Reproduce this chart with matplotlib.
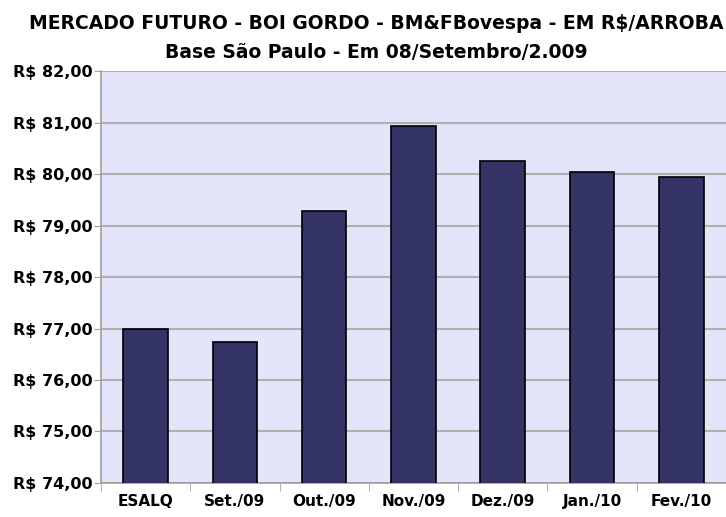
import matplotlib
matplotlib.use('Agg')
import matplotlib.pyplot as plt
import numpy as np

# dados
categorias = ['ESALQ', 'Set./09', 'Out./09', 'Nov./09', 'Dez./09', 'Jan./10', 'Fev./10']
precos = [77.00, 76.73, 79.28, 80.94, 80.25, 80.05, 79.94]
yticks = [74, 75, 76, 77, 78, 79, 80, 81, 82]
titulo1 = 'MERCADO FUTURO - BOI GORDO - BM&FBovespa - EM R$/ARROBA'
titulo2 = 'Base São Paulo - Em 08/Setembro/2.009'

plt.rcParams['font.family'] = ['DejaVu Sans']

fig = plt.figure(figsize=(7.26, 5.17), dpi=100)
ax = fig.add_axes([0.139, 0.066, 0.861, 0.796])
ax.set_facecolor('#E4E4FA')

x = np.arange(len(categorias))
ax.bar(x, precos, width=0.5, color='#333366', edgecolor='black', linewidth=1.2, zorder=3)

ax.set_ylim(74, 82)
ax.set_xlim(-0.5, len(categorias) - 0.5)
ax.set_yticks(yticks)
ax.set_yticklabels(['R$ %d,00' % v for v in yticks], fontsize=11.5, fontweight='bold')
ax.set_xticks(x)
ax.set_xticklabels(categorias, fontsize=11, fontweight='bold')
ax.set_xticks(np.arange(-0.5, len(categorias)), minor=True)
ax.tick_params(axis='x', which='major', length=0, pad=8)
ax.tick_params(axis='x', which='minor', length=6, color='#A0A0A0', direction='out')
ax.tick_params(axis='y', length=5, color='#A0A0A0', direction='out', pad=1)

ax.yaxis.grid(True, color='#B0B0B0', linewidth=1.5, zorder=0)
ax.set_axisbelow(True)
for s in ['top', 'right']:
    ax.spines[s].set_visible(False)
for s in ['left', 'bottom']:
    ax.spines[s].set_color('#A0A0A0')
    ax.spines[s].set_linewidth(1.2)

fig.text(0.518, 0.955, titulo1, ha='center', va='center', fontsize=13.5, fontweight='bold')
fig.text(0.518, 0.899, titulo2, ha='center', va='center', fontsize=13.5, fontweight='bold')

fig.savefig('out.png', dpi=100)
